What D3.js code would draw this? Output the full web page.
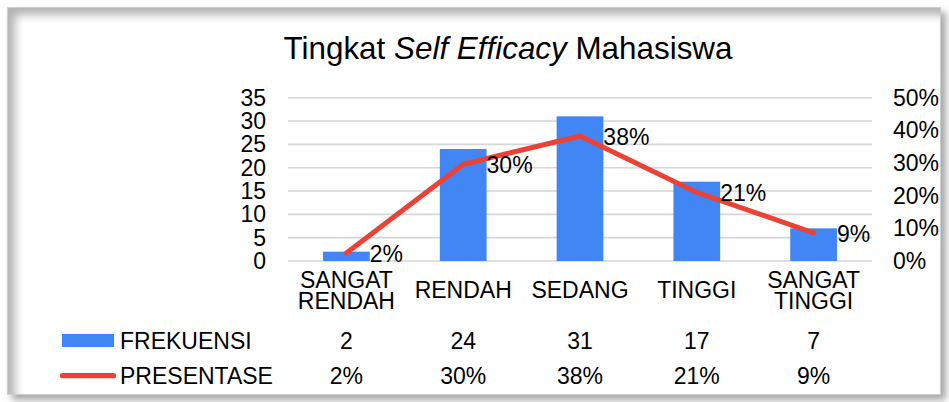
<!DOCTYPE html>
<html>
<head>
<meta charset="utf-8">
<script src="https://cdn.jsdelivr.net/npm/d3@7"></script>
<style>
  html, body { margin: 0; padding: 0; background: #fff; }
  #wrap { position: relative; width: 949px; height: 402px; overflow: hidden; background: #fff; }
  #frame {
    position: absolute; left: 7px; top: 7px; width: 932px; height: 386px;
    border: 1px solid #cfcfcf;
    box-shadow: inset 7px 7px 10px rgba(0,0,0,0.30), 5px 5px 7px rgba(0,0,0,0.35);
    pointer-events: none;
  }
  svg { position: absolute; left: 0; top: 0; }
  text { font-family: "Liberation Sans", Arial, sans-serif; fill: #000; }
</style>
</head>
<body>
<div id="wrap">
  <div id="frame"></div>
  <svg id="chart" width="949" height="402"></svg>
</div>
<script>
// ---- data ----
const categories = [["SANGAT", "RENDAH"], ["RENDAH"], ["SEDANG"], ["TINGGI"], ["SANGAT", "TINGGI"]];
const categoryKeys = ["SANGAT RENDAH", "RENDAH", "SEDANG", "TINGGI", "SANGAT TINGGI"];
const frekuensi = [2, 24, 31, 17, 7];
const presentase = [0.0247, 0.2963, 0.3827, 0.2099, 0.0864];
const leftTicks = [0, 5, 10, 15, 20, 25, 30, 35];
const rightTicks = [0, 0.1, 0.2, 0.3, 0.4, 0.5];
const seriesNames = ["FREKUENSI", "PRESENTASE"];

const BAR = "#4285F4", LINE = "#EA4335";
const FS = 23;

const svg = d3.select("#chart");

const x = d3.scaleBand().domain(categoryKeys).range([288, 872]).paddingInner(0).paddingOuter(0);
const yL = d3.scaleLinear().domain([0, 35]).range([261, 97.7]);
const yR = d3.scaleLinear().domain([0, 0.5]).range([261, 97.7]);
const cx = k => x(k) + x.bandwidth() / 2;
const barW = x.bandwidth() * 0.4;

// title
const title = svg.append("text").attr("x", 508).attr("y", 58.5).attr("text-anchor", "middle")
  .style("font-size", "31.4px");
title.append("tspan").text("Tingkat ");
title.append("tspan").style("font-style", "italic").text("Self Efficacy");
title.append("tspan").text(" Mahasiswa");

// gridlines
svg.append("g").selectAll("line").data(leftTicks).join("line")
  .attr("x1", 288).attr("x2", 872)
  .attr("y1", d => yL(d)).attr("y2", d => yL(d))
  .attr("stroke", "#d6d6d6").attr("stroke-width", 1.6);

// left axis
const gL = svg.append("g").attr("transform", "translate(288,0)")
  .call(d3.axisLeft(yL).tickValues(leftTicks).tickSize(0).tickPadding(22));
gL.select(".domain").remove();
gL.selectAll("text").style("font-size", FS + "px").style("font-family", "Liberation Sans, Arial, sans-serif").attr("fill", "#000");

// right axis
const gR = svg.append("g").attr("transform", "translate(872,0)")
  .call(d3.axisRight(yR).tickValues(rightTicks).tickSize(0).tickPadding(21).tickFormat(d3.format(".0%")));
gR.select(".domain").remove();
gR.selectAll("text").style("font-size", FS + "px").style("font-family", "Liberation Sans, Arial, sans-serif").attr("fill", "#000");

// bars
svg.append("g").selectAll("rect").data(frekuensi).join("rect")
  .attr("x", (d, i) => cx(categoryKeys[i]) - barW / 2)
  .attr("width", barW)
  .attr("y", d => yL(d))
  .attr("height", d => yL(0) - yL(d))
  .attr("fill", BAR);

// line
const line = d3.line().x((d, i) => cx(categoryKeys[i])).y(d => yR(d));
svg.append("path").datum(presentase).attr("d", line)
  .attr("fill", "none").attr("stroke", LINE).attr("stroke-width", 5)
  .attr("stroke-linejoin", "round").attr("stroke-linecap", "round");

// data labels
svg.append("g").selectAll("text").data(presentase).join("text")
  .attr("x", (d, i) => cx(categoryKeys[i]) + barW / 2)
  .attr("y", d => yR(d))
  .attr("dy", "0.38em")
  .style("font-size", FS + "px")
  .text(d => d3.format(".0%")(d));

// category labels
const cat = svg.append("g").selectAll("text").data(categories).join("text")
  .attr("text-anchor", "middle")
  .attr("x", (d, i) => cx(categoryKeys[i]))
  .attr("y", d => d.length === 1 ? 298 : 288)
  .style("font-size", FS + "px");
cat.each(function(d, i) {
  const t = d3.select(this);
  d.forEach((ln, j) => {
    t.append("tspan").attr("x", cx(categoryKeys[i])).attr("dy", j === 0 ? 0 : 20.5).text(ln);
  });
});

// table legend
svg.append("rect").attr("x", 62).attr("y", 334).attr("width", 52).attr("height", 13).attr("fill", BAR);
svg.append("line").attr("x1", 62.5).attr("x2", 113.5).attr("y1", 375.7).attr("y2", 375.7)
  .attr("stroke", LINE).attr("stroke-width", 5.3).attr("stroke-linecap", "round");
svg.append("text").attr("x", 120).attr("y", 348.7).style("font-size", FS + "px").text(seriesNames[0]);
svg.append("text").attr("x", 120).attr("y", 384).style("font-size", FS + "px").text(seriesNames[1]);

// table values
svg.append("g").selectAll("text").data(frekuensi).join("text")
  .attr("text-anchor", "middle").attr("x", (d, i) => cx(categoryKeys[i])).attr("y", 348.7)
  .style("font-size", FS + "px").text(d => d);
svg.append("g").selectAll("text").data(presentase).join("text")
  .attr("text-anchor", "middle").attr("x", (d, i) => cx(categoryKeys[i])).attr("y", 384)
  .style("font-size", FS + "px").text(d => d3.format(".0%")(d));
</script>
</body>
</html>
